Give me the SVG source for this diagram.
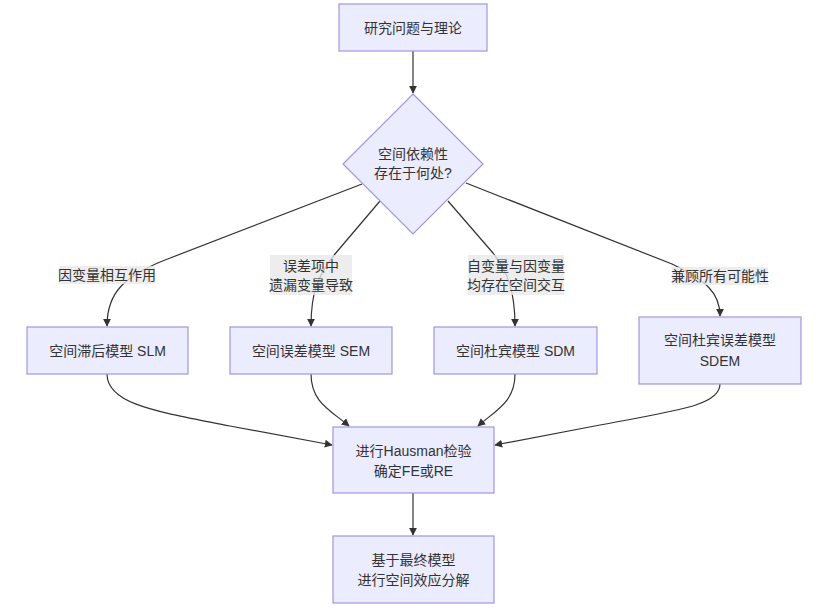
<svg xmlns="http://www.w3.org/2000/svg" width="831" height="608" viewBox="0 0 831 608">
<style>
.node{fill:#ECECFF;stroke:#a395dc;stroke-width:1.2}
.edge{fill:none;stroke:#333333;stroke-width:1.2}
.lbg{fill:#e8e8e8;fill-opacity:0.8}
text{font-family:"Liberation Sans","Noto Sans CJK SC",sans-serif;font-size:14px;fill:#333333;text-anchor:middle;dominant-baseline:central}
</style>
<defs>
<marker id="arr" viewBox="0 0 10 10" refX="9" refY="5" markerWidth="8" markerHeight="8" markerUnits="userSpaceOnUse" orient="auto">
<path d="M0,0 L10,5 L0,10 z" fill="#333333"/>
</marker>
</defs>
<rect width="831" height="608" fill="#ffffff"/>
<g id="edges">
<path class="edge" marker-end="url(#arr)" d="M413,51 L413,93"/>
<path class="edge" marker-end="url(#arr)" d="M362,184 L165,260 C125,276 107,292 107,326"/>
<path class="edge" marker-end="url(#arr)" d="M380,201 L335,254 C318,275 311,292 311,326"/>
<path class="edge" marker-end="url(#arr)" d="M448,201 L493,253 C508,272 515,292 515,326"/>
<path class="edge" marker-end="url(#arr)" d="M466,183 L672,264 C705,280 720,292 720,316"/>
<path class="edge" marker-end="url(#arr)" d="M107,374 C107,405 160,412 230,426 L332,445"/>
<path class="edge" marker-end="url(#arr)" d="M311,374 C311,402 330,410 349,426"/>
<path class="edge" marker-end="url(#arr)" d="M515,374 C515,402 496,410 478,426"/>
<path class="edge" marker-end="url(#arr)" d="M720,384 C720,405 680,410 600,425 L495,445"/>
<path class="edge" marker-end="url(#arr)" d="M413,493 L413,535"/>
</g>
<g id="edge-labels">
<g id="lbl1"><rect class="lbg" x="59" y="266" width="96" height="18"/><text x="107" y="275">因变量相互作用</text></g>
<g id="lbl2"><rect class="lbg" x="270" y="255" width="82" height="40"/><text x="311" y="266">误差项中</text><text x="311" y="285">遗漏变量导致</text></g>
<g id="lbl3"><rect class="lbg" x="468" y="255" width="96" height="40"/><text x="516" y="266">自变量与因变量</text><text x="516" y="285">均存在空间交互</text></g>
<g id="lbl4"><rect class="lbg" x="672" y="267" width="96" height="18"/><text x="720" y="276">兼顾所有可能性</text></g>
</g>
<g id="n-start"><rect class="node" x="339" y="4" width="148" height="47"/><text x="413" y="28">研究问题与理论</text></g>
<g id="n-q"><polygon class="node" points="413,94 483,164 413,234 343,164"/><text x="413" y="154">空间依赖性</text><text x="413" y="173">存在于何处?</text></g>
<g id="n-slm"><rect class="node" x="27" y="327" width="161" height="47"/><text x="107.5" y="351">空间滞后模型 SLM</text></g>
<g id="n-sem"><rect class="node" x="230" y="327" width="162" height="47"/><text x="311" y="351">空间误差模型 SEM</text></g>
<g id="n-sdm"><rect class="node" x="434" y="327" width="163" height="47"/><text x="515.5" y="351">空间杜宾模型 SDM</text></g>
<g id="n-sdem"><rect class="node" x="639" y="317" width="162" height="67"/><text x="720" y="340">空间杜宾误差模型</text><text x="720" y="361">SDEM</text></g>
<g id="n-haus"><rect class="node" x="333" y="427" width="161" height="66"/><text x="413.5" y="451">进行Hausman检验</text><text x="413.5" y="471">确定FE或RE</text></g>
<g id="n-final"><rect class="node" x="333" y="536" width="161" height="67"/><text x="413.5" y="560">基于最终模型</text><text x="413.5" y="580">进行空间效应分解</text></g>
</svg>
